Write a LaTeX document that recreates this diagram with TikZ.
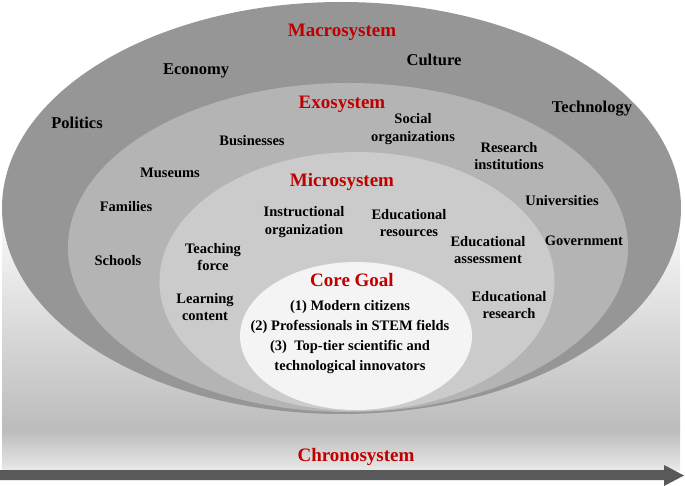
\documentclass[tikz,border=0pt]{standalone}
\usepackage{fontspec}
\setmainfont{Liberation Serif}
\definecolor{sysred}{HTML}{C00000}
\definecolor{macrogray}{HTML}{969696}
\definecolor{exogray}{HTML}{B4B4B4}
\definecolor{microgray}{HTML}{CBCBCB}
\definecolor{coregray}{HTML}{F4F4F4}
\definecolor{bandgray}{HTML}{BCBCBC}
\definecolor{baselight}{HTML}{E8E8E8}
\definecolor{arrowgray}{HTML}{595959}
\tikzset{
	factor/.style={font=\bfseries\fontsize{14.5}{17.5}\selectfont, align=center, inner sep=0pt},
	bigfactor/.style={factor, font=\bfseries\fontsize{16.5}{19}\selectfont},
	system/.style={font=\bfseries\fontsize{19}{22}\selectfont, text=sysred, inner sep=0pt},
	goal/.style={font=\bfseries\fontsize{14.5}{20}\selectfont, align=center, inner sep=0pt}
}

\begin{document}
\begin{tikzpicture}[x=1pt, y=-1pt]
			%%%%% START %%%%%
			\useasboundingbox (0, 0) rectangle (685, 486);
			
			% time band
			\shade[top color=white, bottom color=bandgray] (2, 200) rectangle (680, 430);
			\shade[top color=bandgray, bottom color=baselight] (2, 430) rectangle (680, 470);
			
			% nested systems
			\fill[macrogray] (341.5, 208) ellipse (339.5 and 206);
			\fill[exogray] (348, 247.5) ellipse (280 and 164.5);
			\fill[microgray] (357, 281.5) ellipse (197.5 and 129.5);
			\fill[coregray] (356, 336) ellipse (116 and 74);
			
			% time arrow
			\fill[arrowgray] (0, 470) -- (664, 470) -- (664, 465) -- (684, 475.5) -- (664, 486) -- (664, 480) -- (0, 480) -- cycle;
			
			% macrosystem
			\node[system] (macro) at (342, 32) {Macrosystem};
			\node[bigfactor] (economy) at (196, 71) {Economy};
			\node[bigfactor] (culture) at (434, 60) {Culture};
			\node[bigfactor] (politics) at (77, 123) {Politics};
			\node[bigfactor] (technology) at (592, 109) {Technology};
			
			% exosystem
			\node[system] (exo) at (342, 104) {Exosystem};
			\node[factor] (social) at (413, 129) {Social\\organizations};
			\node[factor] (business) at (252, 141) {Businesses};
			\node[factor] (research) at (509, 156) {Research\\institutions};
			\node[factor] (museum) at (170, 173) {Museums};
			\node[factor] (family) at (126, 207) {Families};
			\node[factor] (university) at (562, 201) {Universities};
			\node[factor] (government) at (584, 241) {Government};
			\node[factor] (school) at (118, 261) {Schools};
			
			% microsystem
			\node[system] (micro) at (342, 182) {Microsystem};
			\node[factor] (instruct) at (304, 222) {Instructional\\organization};
			\node[factor] (resource) at (409, 223) {Educational\\resources};
			\node[factor] (assess) at (488, 250) {Educational\\assessment};
			\node[factor] (teacher) at (213, 257) {Teaching\\force};
			\node[factor] (content) at (205, 307) {Learning\\content};
			\node[factor] (eduresearch) at (509, 305) {Educational\\research};
			
			% core goal
			\node[system] (core) at (352, 280) {Core Goal};
			\node[goal] (goals) at (350, 337) {(1) Modern citizens\\(2) Professionals in STEM fields\\(3)\ \ Top-tier scientific and\\technological innovators};
			
			\node[system] (chrono) at (356, 457) {Chronosystem};
			
			%%%%% END %%%%%
		\end{tikzpicture}
\end{document}
